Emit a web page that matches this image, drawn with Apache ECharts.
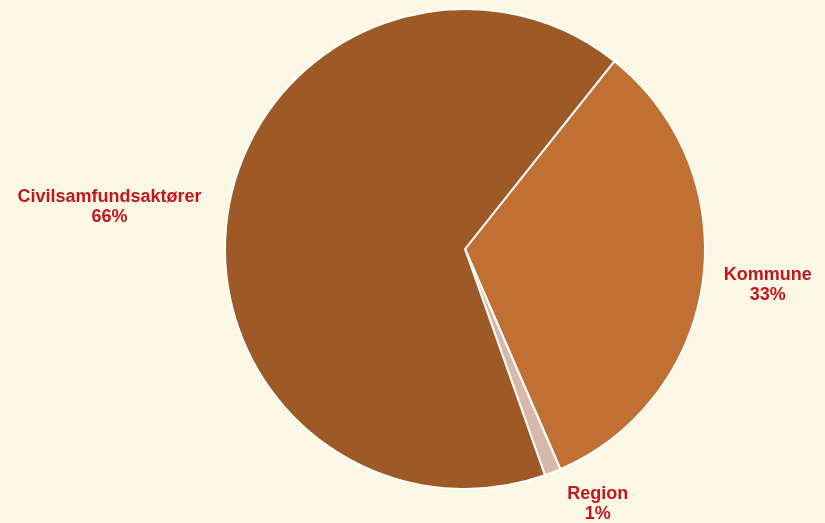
<!DOCTYPE html>
<html><head><meta charset="utf-8">
<script src="https://cdn.jsdelivr.net/npm/echarts@6/dist/echarts.min.js"></script>
<style>html,body{margin:0;padding:0;background:#FAF8E4;}#c{width:825px;height:523px;}</style>
</head><body><div id="c"></div>
<script>
const categories = ['Kommune', 'Region', 'Civilsamfundsaktører'];
const values = [32.8, 1.1, 66.1];
const labelsPct = ['33%', '1%', '66%'];
const colors = ['#C07032', '#D8B8A8', '#9E5A26'];

const lineLen = [[14, 2], [34, 0], [16, 6]];
const labelDx = [0, -3, 0];
const labelDy = [3, 0, 0];

const chart = echarts.init(document.getElementById('c'));
chart.setOption({
  backgroundColor: '#FAF8E4',
  animation: false,
  series: [{
    type: 'pie',
    center: [465, 249],
    radius: [0, 240],
    startAngle: 51.5,
    clockwise: true,
    avoidLabelOverlap: false,
    itemStyle: { borderColor: '#FFFFFF', borderWidth: 2 },
    label: {
      show: true,
      position: 'outside',
      formatter: p => p.name + '\n' + labelsPct[p.dataIndex],
      color: '#C0181E',
      fontFamily: 'Liberation Sans, Arial, sans-serif',
      fontWeight: 'bold',
      fontSize: 18,
      lineHeight: 20
    },
    labelLine: { show: false },
    labelLayout: function (p) {
      const r = p.labelRect;
      return { x: r.x + r.width / 2 + labelDx[p.dataIndex], y: r.y + r.height / 2 + labelDy[p.dataIndex], align: 'center', verticalAlign: 'middle' };
    },
    data: categories.map((c, i) => ({
      name: c, value: values[i],
      itemStyle: { color: colors[i] },
      labelLine: { show: false, length: lineLen[i][0], length2: lineLen[i][1] }
    }))
  }]
});
</script></body></html>
